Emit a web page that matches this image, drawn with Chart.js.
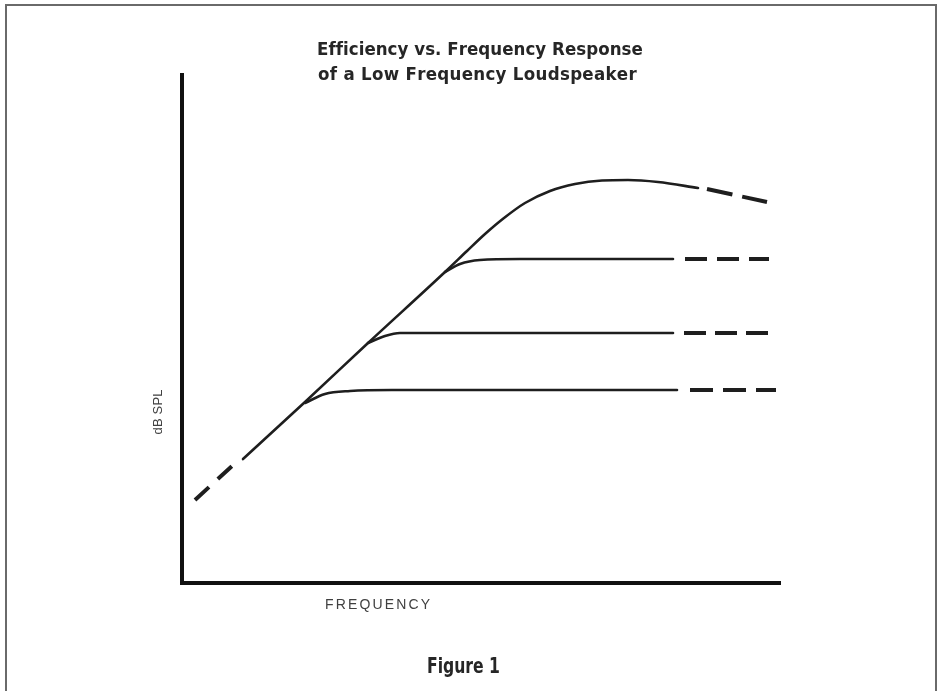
<!DOCTYPE html>
<html>
<head>
<meta charset="utf-8">
<script src="https://cdn.jsdelivr.net/npm/chart.js@4.4.1/dist/chart.umd.min.js"></script>
<style>
  html, body { margin: 0; padding: 0; background: #fff; width: 940px; height: 691px; overflow: hidden; }
  #frame { position: absolute; left: 5px; top: 4px; width: 932px; height: 720px; border: 2px solid #6a6a6a; box-sizing: border-box; }
  #wrap { position: absolute; left: 0; top: 0; width: 940px; height: 691px; }
</style>
</head>
<body>
<div id="frame"></div>
<div id="wrap"><canvas id="c" width="940" height="691"></canvas></div>
<script>
// Schematic values (arbitrary units: frequency → x, dB SPL → y)
const titleLines = ["Efficiency vs. Frequency Response", "of a Low Frequency Loudspeaker"];
const xLabel = "FREQUENCY";
const yLabel = "dB SPL";
const figureLabel = "Figure 1";

// Main (high efficiency) curve
const mainDashedStart = [[13, 83], [50, 117]];
const mainSolid = [[61, 124], [123, 181], [186, 240], [263, 311], [285, 332], [303, 349], [322, 365], [343, 380], [368, 392], [393, 399], [420, 402.5], [446, 403], [476, 401], [516, 395]];
const mainDashedEnd = [[525, 394], [585, 381]];

// Lower-efficiency plateau curves
const flat1Solid = [[263, 311], [278, 319], [298, 323], [338, 324], [491, 324]];
const flat1Dashed = [[503, 324], [587, 324]];
const flat2Solid = [[186, 240], [203, 247], [218, 250], [260, 250], [491, 250]];
const flat2Dashed = [[502, 250], [591, 250]];
const flat3Solid = [[123, 180], [143, 189], [168, 192], [210, 193], [495, 193]];
const flat3Dashed = [[508, 193], [594, 193]];

const toPts = arr => arr.map(p => ({ x: p[0], y: p[1] }));
const INK = '#1e1e1e';

function solid(arr) {
  return { data: toPts(arr), borderColor: INK, borderWidth: 2.6, pointRadius: 0, cubicInterpolationMode: 'monotone', fill: false, borderCapStyle: 'round' };
}
function dashed(arr, dash) {
  return { data: toPts(arr), borderColor: INK, borderWidth: 4, pointRadius: 0, borderDash: dash, borderCapStyle: 'butt', fill: false, tension: 0 };
}

function drawFit(ctx, text, cx, baseline, font, target, color) {
  ctx.save();
  ctx.font = font;
  ctx.fillStyle = color;
  ctx.textBaseline = 'alphabetic';
  ctx.textAlign = 'left';
  const w = ctx.measureText(text).width;
  const sp = (target - w) / (text.length - 1);
  if (sp >= 0) {
    let x = cx - target / 2;
    for (const ch of text) {
      ctx.fillText(ch, x, baseline);
      x += ctx.measureText(ch).width + sp;
    }
  } else {
    ctx.translate(cx - target / 2, baseline);
    ctx.scale(target / w, 1);
    ctx.fillText(text, 0, 0);
  }
  ctx.restore();
}

const textPlugin = {
  id: 'texts',
  afterDraw(chart) {
    const ctx = chart.ctx;
    const narrowBold = "bold 18.5px 'Liberation Sans Narrow', 'DejaVu Sans Condensed', 'Roboto Condensed', sans-serif";
    drawFit(ctx, titleLines[0], 478.5, 55, narrowBold, 323, '#262626');
    drawFit(ctx, titleLines[1], 476.5, 80, narrowBold, 317, '#262626');
    drawFit(ctx, xLabel, 377.5, 609, "14px 'Liberation Sans', Arial, sans-serif", 105, '#404040');
    drawFit(ctx, figureLabel, 463.5, 673, "bold 22px 'Liberation Sans Narrow', 'DejaVu Sans Condensed', sans-serif", 73, '#262626');
    ctx.save();
    ctx.translate(162, 412);
    ctx.rotate(-Math.PI / 2);
    drawFit(ctx, yLabel, 0, 0, "13px 'Liberation Sans', Arial, sans-serif", 45, '#404040');
    ctx.restore();
  }
};

new Chart(document.getElementById('c'), {
  type: 'line',
  data: {
    datasets: [
      dashed(mainDashedStart, [19, 12]),
      solid(mainSolid),
      dashed(mainDashedEnd, [26, 10]),
      solid(flat1Solid),
      dashed(flat1Dashed, [22, 10]),
      solid(flat2Solid),
      dashed(flat2Dashed, [22, 9]),
      solid(flat3Solid),
      dashed(flat3Dashed, [23, 10])
    ]
  },
  options: {
    responsive: false,
    animation: false,
    events: [],
    layout: { padding: { left: 182, top: 75, right: 160, bottom: 108 } },
    plugins: { legend: { display: false }, title: { display: false }, tooltip: { enabled: false } },
    scales: {
      x: {
        type: 'linear', min: 0, max: 598,
        ticks: { display: false },
        grid: { display: false, drawTicks: false },
        border: { display: true, color: '#111', width: 4 }
      },
      y: {
        type: 'linear', min: 0, max: 508,
        ticks: { display: false },
        grid: { display: false, drawTicks: false },
        border: { display: true, color: '#111', width: 4 }
      }
    }
  },
  plugins: [textPlugin]
});
</script>
</body>
</html>
